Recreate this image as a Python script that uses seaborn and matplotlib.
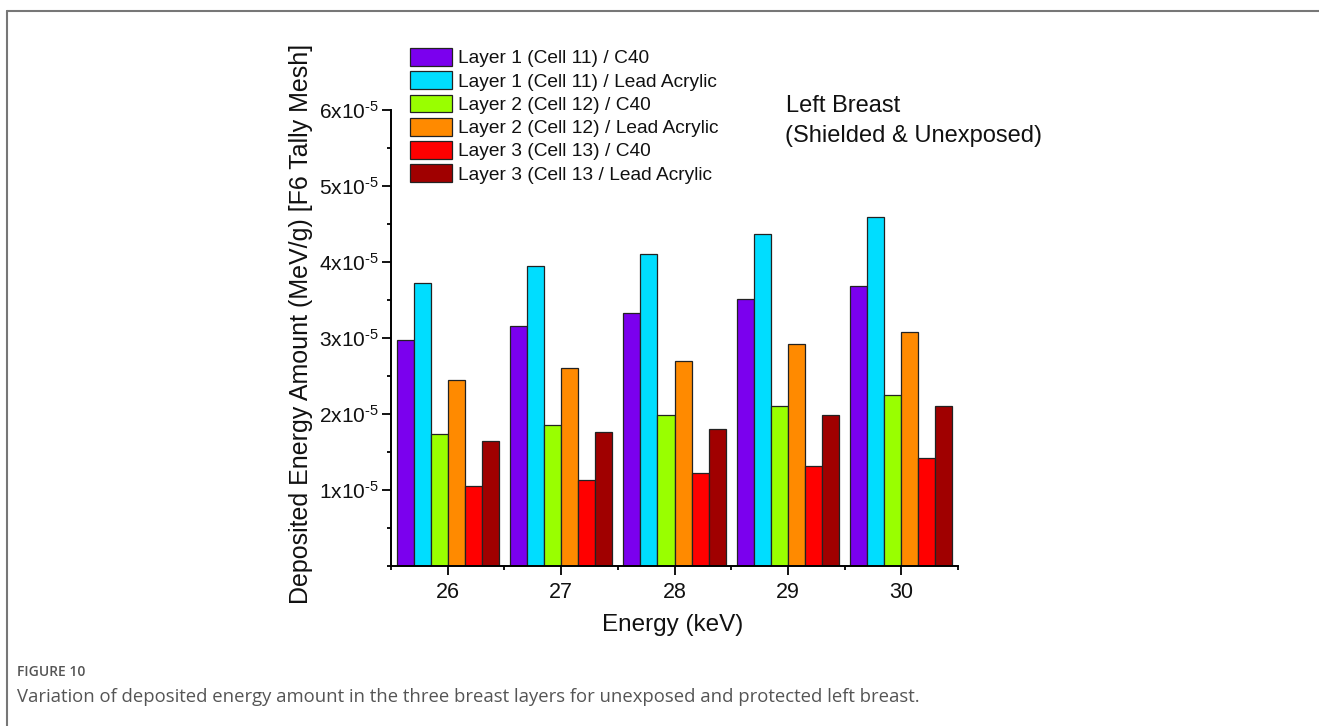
import matplotlib
matplotlib.use("Agg")
import matplotlib.pyplot as plt
from matplotlib.lines import Line2D
from matplotlib.ticker import MultipleLocator, FixedLocator, FuncFormatter
import seaborn as sns
import pandas as pd

# ---------------- data ----------------
energies = ["26", "27", "28", "29", "30"]
series_names = [
    "Layer 1 (Cell 11) / C40",
    "Layer 1 (Cell 11) / Lead Acrylic",
    "Layer 2 (Cell 12) / C40",
    "Layer 2 (Cell 12) / Lead Acrylic",
    "Layer 3 (Cell 13) / C40",
    "Layer 3 (Cell 13 / Lead Acrylic",
]
layer1_c40 = [2.975e-5, 3.16e-5, 3.33e-5, 3.51e-5, 3.69e-5]
layer1_lead = [3.72e-5, 3.945e-5, 4.10e-5, 4.37e-5, 4.59e-5]
layer2_c40 = [1.74e-5, 1.86e-5, 1.99e-5, 2.11e-5, 2.25e-5]
layer2_lead = [2.45e-5, 2.61e-5, 2.70e-5, 2.92e-5, 3.08e-5]
layer3_c40 = [1.05e-5, 1.13e-5, 1.22e-5, 1.32e-5, 1.415e-5]
layer3_lead = [1.64e-5, 1.765e-5, 1.80e-5, 1.99e-5, 2.11e-5]
series_values = [layer1_c40, layer1_lead, layer2_c40, layer2_lead, layer3_c40, layer3_lead]
colors = ["#7B00EE", "#00DDFF", "#99FF00", "#FF8A00", "#FF0000", "#A00000"]

rows = []
for name, vals in zip(series_names, series_values):
    for e, v in zip(energies, vals):
        rows.append({"Energy": e, "Series": name, "Value": v})
df = pd.DataFrame(rows)

# ---------------- style ----------------
sns.set_theme(style="white")
plt.rcParams["font.family"] = ["Liberation Sans", "DejaVu Sans"]
plt.rcParams["mathtext.fontset"] = "custom"
plt.rcParams["mathtext.rm"] = "Liberation Sans"
plt.rcParams["mathtext.it"] = "Liberation Sans:italic"
plt.rcParams["mathtext.bf"] = "Liberation Sans:bold"

W, H = 1319, 726
fig = plt.figure(figsize=(W / 100, H / 100), dpi=100)
fig.patch.set_facecolor("white")
ax = fig.add_axes([391 / W, 1 - 566 / H, (958 - 391) / W, (566 - 110) / H])

sns.barplot(
    data=df, x="Energy", y="Value", hue="Series", order=energies,
    hue_order=series_names, palette=colors, width=0.9, gap=0,
    edgecolor="#222222", linewidth=0.9, saturation=1, ax=ax, legend=True,
)

ax.set_xlim(-0.5, len(energies) - 0.5)
ax.set_ylim(0, 6e-5)
ax.set_xlabel("")
ax.set_ylabel("")

for s in ["top", "right"]:
    ax.spines[s].set_visible(False)
for s in ["left", "bottom"]:
    ax.spines[s].set_color("black")
    ax.spines[s].set_linewidth(1.4)

ax.yaxis.set_major_locator(FixedLocator([1e-5, 2e-5, 3e-5, 4e-5, 5e-5, 6e-5]))
ax.yaxis.set_minor_locator(MultipleLocator(0.5e-5))

def yfmt(v, pos):
    k = int(round(v / 1e-5))
    return r"$\mathregular{%dx10^{\text{-}5}}$" % k

ax.yaxis.set_major_formatter(FuncFormatter(yfmt))
ax.xaxis.set_minor_locator(FixedLocator([i + 0.5 for i in range(-1, len(energies))]))

ax.tick_params(axis="both", which="major", direction="out", length=6.5, width=1.3,
               color="black", labelcolor="#111111")
ax.tick_params(axis="y", which="major", pad=2, labelsize=15)
ax.tick_params(axis="x", which="major", pad=5, labelsize=15.5)
ax.tick_params(axis="both", which="minor", direction="out", length=3.2, width=1.3,
               color="black")
ax.tick_params(left=True, bottom=True, which="both")

# legend
handles, labels = ax.get_legend_handles_labels()
if ax.get_legend() is not None:
    ax.get_legend().remove()
leg = ax.legend(
    handles, labels, loc="upper left",
    bbox_to_anchor=(410 / W, 1 - 48 / H), bbox_transform=fig.transFigure,
    frameon=False, fontsize=13.8, handlelength=2.2, handleheight=1.05,
    handletextpad=0.3, labelspacing=0.2, borderpad=0, borderaxespad=0,
)
for t in leg.get_texts():
    t.set_color("#111111")

# annotation
fig.text(786 / W, 1 - 112 / H, "Left Breast", fontsize=17, ha="left", va="baseline",
         color="#111111")
fig.text(785 / W, 1 - 142 / H, "(Shielded & Unexposed)", fontsize=17, ha="left",
         va="baseline", color="#111111")

# axis labels
fig.text(301 / W, 1 - 324 / H, "Deposited Energy Amount (MeV/g) [F6 Tally Mesh]",
         rotation=90, fontsize=18, ha="center", va="center", color="#111111")
fig.text(673 / W, 1 - 625 / H, "Energy (keV)", fontsize=17.5, ha="center", va="center",
         color="#111111")

# caption
fig.text(17 / W, 1 - 672 / H, "FIGURE 10", fontsize=10, fontweight="semibold",
         family=["Open Sans", "DejaVu Sans"], color="#555555", ha="left", va="center")
fig.text(17 / W, 1 - 697 / H,
         "Variation of deposited energy amount in the three breast layers for unexposed and protected left breast.",
         fontsize=13.3, family=["Open Sans", "DejaVu Sans"], color="#555555",
         ha="left", va="center")

# page frame lines (top and left)
fig.add_artist(Line2D([7 / W, 1], [1 - 11 / H, 1 - 11 / H], transform=fig.transFigure,
                      color="#777777", linewidth=1.5))
fig.add_artist(Line2D([7 / W, 7 / W], [0, 1 - 11 / H], transform=fig.transFigure,
                      color="#777777", linewidth=1.5))

fig.savefig("out.png", dpi=100, facecolor="white")
